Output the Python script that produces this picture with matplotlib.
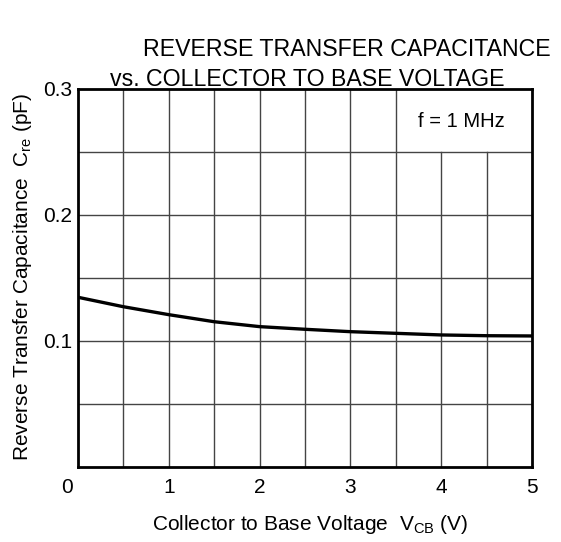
import numpy as np
import matplotlib
matplotlib.use("Agg")
import matplotlib.pyplot as plt
from matplotlib.transforms import ScaledTranslation

plt.rcParams["font.family"] = ["Liberation Sans", "DejaVu Sans"]
plt.rcParams["mathtext.fontset"] = "custom"
plt.rcParams["mathtext.rm"] = "Liberation Sans"

# curve
vcb = [0, 0.5, 1, 1.5, 2, 2.5, 3, 3.5, 4, 4.5, 5]
cre = [0.1347, 0.1272, 0.1209, 0.1153, 0.1114, 0.1093, 0.1074, 0.1061, 0.1048, 0.1042, 0.1040]

x_ticks = [0, 1, 2, 3, 4, 5]
y_ticks = [0.1, 0.2, 0.3]
y_tick_labels = ["0.1", "0.2", "0.3"]

fig = plt.figure(figsize=(5.61, 5.42), dpi=100)
ax = fig.add_axes([78 / 561, 1 - 467 / 542, (532 - 78) / 561, (467 - 89) / 542])
ax.set_xlim(0, 5)
ax.set_ylim(0, 0.3)

# grid, with the label box at top right left clear
gc = "#444444"
for gx in np.arange(0.5, 5, 0.5):
    top = 0.25 / 0.3 if gx > 3.6 else 1.0
    ax.axvline(gx, ymin=0, ymax=top, color=gc, lw=1.0, zorder=1)
for gy in np.arange(0.05, 0.3, 0.05):
    ax.axhline(gy, color=gc, lw=1.0, zorder=1)

ax.plot(vcb, cre, color="black", lw=2.4, zorder=3)

ax.text(4.22, 0.27, "f = 1 MHz", ha="center", va="baseline", fontsize=14.5)

ax.set_xticks(x_ticks)
ax.set_yticks(y_ticks)
ax.set_yticklabels(y_tick_labels)
ax.tick_params(length=0, labelsize=15)
ax.tick_params(axis="x", pad=8)
ax.tick_params(axis="y", pad=4)
# the "0" sits left of the axis corner
lab0 = ax.get_xticklabels()[0]
lab0.set_transform(lab0.get_transform() + ScaledTranslation(-11 / 100, 0, fig.dpi_scale_trans))
for s in ax.spines.values():
    s.set_linewidth(2)

fig.text(347 / 561, 1 - 49 / 542, "REVERSE TRANSFER CAPACITANCE", ha="center", va="center", fontsize=16.7)
fig.text(307 / 561, 1 - 80 / 542, "vs. COLLECTOR TO BASE VOLTAGE", ha="center", va="center", fontsize=16.7)

fig.text(310 / 561, 1 - 530 / 542, r"Collector to Base Voltage  V$_{\mathregular{CB}}$ (V)",
         ha="center", va="baseline", fontsize=15)
fig.text(23 / 561, 1 - 277 / 542, r"Reverse Transfer Capacitance  C$_{\mathregular{re}}$ (pF)",
         ha="center", va="center", rotation=90, fontsize=15)

fig.savefig("out.png", dpi=100)
